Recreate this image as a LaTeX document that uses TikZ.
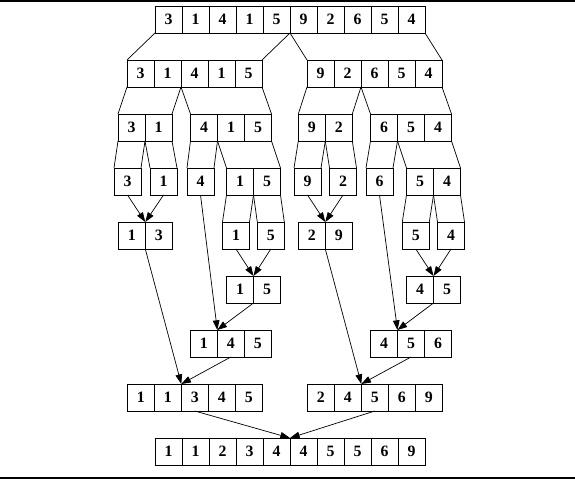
\documentclass[tikz,border=0pt]{standalone}
\usepackage{fontspec}
\setmainfont{Liberation Serif}
\usetikzlibrary{arrows.meta}

% one record: name, left x, top y, values
\newcommand{\cellrow}[4]{%
  \foreach \v [count=\i] in {#4}
    \node[cell] (#1-\i) at ({#2+(\i-0.5)*27},{#3+13.5}) {\v};%
}

\begin{document}
\begin{tikzpicture}[x=0.03cm, y=-0.03cm,
  cell/.style={draw, line width=0.7pt, minimum width=0.81cm, minimum height=0.81cm,
    inner sep=0pt, outer sep=0pt, font=\fontsize{13.5}{15}\selectfont\bfseries},
  split/.style={line width=0.6pt},
  merge/.style={line width=0.6pt, -{Triangle[length=0.29cm, width=0.2cm]}}]
  \useasboundingbox (0,0) rectangle (575,479);
  \fill (0,0) rectangle (575,2);
  \fill (0,477) rectangle (575,479);

  % Records, top to bottom
  \cellrow{all}{155}{6}{3,1,4,1,5,9,2,6,5,4}
  \cellrow{L}{127}{60}{3,1,4,1,5}
  \cellrow{R}{307}{60}{9,2,6,5,4}
  \cellrow{LL}{118}{114}{3,1}
  \cellrow{LR}{190.5}{114}{4,1,5}
  \cellrow{RL}{298.3}{114}{9,2}
  \cellrow{RR}{370.5}{114}{6,5,4}
  \cellrow{LLa}{114}{168}{3}
  \cellrow{LLb}{150}{168}{1}
  \cellrow{LRa}{187}{168}{4}
  \cellrow{LRb}{226.5}{168}{1,5}
  \cellrow{RLa}{294}{168}{9}
  \cellrow{RLb}{329.5}{168}{2}
  \cellrow{RRa}{366}{168}{6}
  \cellrow{RRb}{406.5}{168}{5,4}
  \cellrow{mLL}{118.3}{222}{1,3}
  \cellrow{LRba}{222.5}{222}{1}
  \cellrow{LRbb}{257.3}{222}{5}
  \cellrow{mRL}{298.3}{222}{2,9}
  \cellrow{RRba}{402.3}{222}{5}
  \cellrow{RRbb}{437.5}{222}{4}
  \cellrow{mLRb}{226.5}{276}{1,5}
  \cellrow{mRRb}{406.5}{276}{4,5}
  \cellrow{mLR}{190.3}{330}{1,4,5}
  \cellrow{mRR}{370.5}{330}{4,5,6}
  \cellrow{mL}{127.3}{384}{1,1,3,4,5}
  \cellrow{mR}{307.3}{384}{2,4,5,6,9}
  \cellrow{out}{155}{438}{1,1,2,3,4,4,5,5,6,9}

  % Split edges
  \draw[split] (all-1.south west) -- (L-1.north west);
  \draw[split] (all-5.south east) -- (L-5.north east);
  \draw[split] (all-6.south west) -- (R-1.north west);
  \draw[split] (all-10.south east) -- (R-5.north east);

  \draw[split] (L-1.south west) -- (LL-1.north west);
  \draw[split] (L-2.south east) -- (LL-2.north east);
  \draw[split] (L-3.south west) -- (LR-1.north west);
  \draw[split] (L-5.south east) -- (LR-3.north east);
  \draw[split] (R-1.south west) -- (RL-1.north west);
  \draw[split] (R-2.south east) -- (RL-2.north east);
  \draw[split] (R-3.south west) -- (RR-1.north west);
  \draw[split] (R-5.south east) -- (RR-3.north east);

  \draw[split] (LL-1.south west) -- (LLa-1.north west);
  \draw[split] (LL-1.south east) -- (LLa-1.north east);
  \draw[split] (LL-2.south west) -- (LLb-1.north west);
  \draw[split] (LL-2.south east) -- (LLb-1.north east);
  \draw[split] (LR-1.south west) -- (LRa-1.north west);
  \draw[split] (LR-1.south east) -- (LRa-1.north east);
  \draw[split] (LR-2.south west) -- (LRb-1.north west);
  \draw[split] (LR-3.south east) -- (LRb-2.north east);
  \draw[split] (RL-1.south west) -- (RLa-1.north west);
  \draw[split] (RL-1.south east) -- (RLa-1.north east);
  \draw[split] (RL-2.south west) -- (RLb-1.north west);
  \draw[split] (RL-2.south east) -- (RLb-1.north east);
  \draw[split] (RR-1.south west) -- (RRa-1.north west);
  \draw[split] (RR-1.south east) -- (RRa-1.north east);
  \draw[split] (RR-2.south west) -- (RRb-1.north west);
  \draw[split] (RR-3.south east) -- (RRb-2.north east);

  \draw[split] (LRb-1.south west) -- (LRba-1.north west);
  \draw[split] (LRb-1.south east) -- (LRba-1.north east);
  \draw[split] (LRb-2.south west) -- (LRbb-1.north west);
  \draw[split] (LRb-2.south east) -- (LRbb-1.north east);
  \draw[split] (RRb-1.south west) -- (RRba-1.north west);
  \draw[split] (RRb-1.south east) -- (RRba-1.north east);
  \draw[split] (RRb-2.south west) -- (RRbb-1.north west);
  \draw[split] (RRb-2.south east) -- (RRbb-1.north east);

  % Merge edges
  \draw[merge] (LLa-1.south) -- (mLL-1.north east);
  \draw[merge] (LLb-1.south) -- (mLL-1.north east);
  \draw[merge] (LRba-1.south) -- (mLRb-1.north east);
  \draw[merge] (LRbb-1.south) -- (mLRb-1.north east);
  \draw[merge] (LRa-1.south) -- (mLR-1.north east);
  \draw[merge] (mLRb-1.south east) -- (mLR-1.north east);
  \draw[merge] (mLL-1.south east) -- (mL-2.north east);
  \draw[merge] (mLR-2.south) -- (mL-2.north east);

  \draw[merge] (RLa-1.south) -- (mRL-1.north east);
  \draw[merge] (RLb-1.south) -- (mRL-1.north east);
  \draw[merge] (RRba-1.south) -- (mRRb-1.north east);
  \draw[merge] (RRbb-1.south) -- (mRRb-1.north east);
  \draw[merge] (RRa-1.south) -- (mRR-1.north east);
  \draw[merge] (mRRb-1.south east) -- (mRR-1.north east);
  \draw[merge] (mRL-1.south east) -- (mR-2.north east);
  \draw[merge] (mRR-2.south) -- (mR-2.north east);

  \draw[merge] (mL-3.south) -- (out-5.north east);
  \draw[merge] (mR-3.south) -- (out-5.north east);
\end{tikzpicture}
\end{document}
